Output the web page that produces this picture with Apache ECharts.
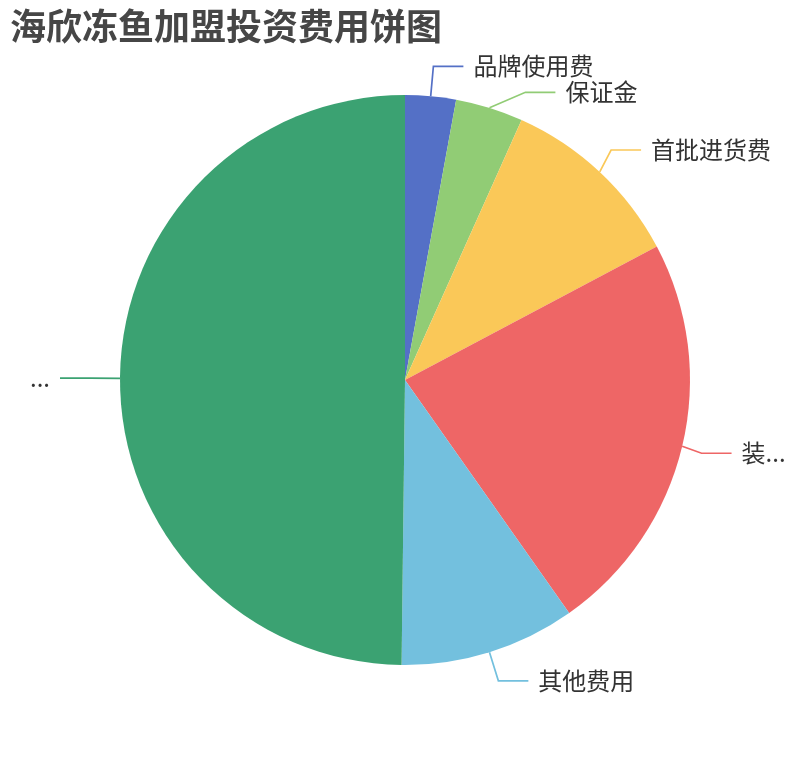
<!DOCTYPE html>
<html>
<head>
<meta charset="utf-8">
<title>海欣冻鱼加盟投资费用饼图</title>
<script src="https://cdn.jsdelivr.net/npm/echarts@6/dist/echarts.min.js"></script>
<style>
  html, body { margin: 0; padding: 0; background: #fff; }
  #chart { width: 810px; height: 760px; }
</style>
</head>
<body>
<div id="chart"></div>
<script>
// 费用项目 (万元, 估读)
const costNames = ["品牌使用费", "保证金", "首批进货费", "装修费", "其他费用", "店面租金"];
const costValues = [1.5, 2, 5.5, 12, 5.2, 26];
const palette = ["#5470c6", "#91cc75", "#fac858", "#ee6666", "#73c0de", "#3ba272"];

const chart = echarts.init(document.getElementById("chart"));

const option = {
  color: palette,
  title: {
    text: "海欣冻鱼加盟投资费用饼图",
    left: 5,
    top: 3,
    textStyle: {
      fontSize: 36,
      fontWeight: "bold",
      color: "#464646",
      fontFamily: "Noto Sans CJK SC"
    }
  },
  series: [{
    name: "投资费用",
    type: "pie",
    radius: 285,
    center: [405, 380],
    startAngle: 90,
    label: {
      show: true,
      fontSize: 24,
      color: "#333",
      fontFamily: "Noto Sans CJK SC",
      distanceToLabelLine: 10
    },
    labelLine: {
      length: 30,
      length2: 30,
      lineStyle: { width: 1.7 }
    },
    data: costNames.map((n, i) => ({ name: n, value: costValues[i] }))
  }]
};
chart.setOption(option);

window.addEventListener("resize", () => chart.resize());
</script>
</body>
</html>
